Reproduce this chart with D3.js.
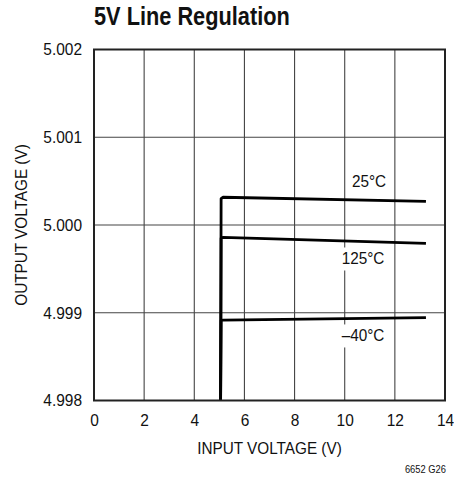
<!DOCTYPE html>
<html>
<head>
<meta charset="utf-8">
<script src="https://cdn.jsdelivr.net/npm/d3@7"></script>
<style>
  html, body { margin: 0; padding: 0; background: #fff; }
  svg { display: block; }
  text { font-family: "Liberation Sans Narrow", "Arial Narrow", "Liberation Sans", sans-serif; fill: #111; }
</style>
</head>
<body>
<svg id="chart" width="454" height="484"></svg>
<script>
const xTicks = [0, 2, 4, 6, 8, 10, 12, 14];
const yTicks = [4.998, 4.999, 5.000, 5.001, 5.002];
const yTickLabels = ["4.998", "4.999", "5.000", "5.001", "5.002"];

const seriesNames = ["25°C", "125°C", "–40°C"];
const inputV = [5.05, 5.07, 5.15, 13.24];
const out25 = [4.998, 5.000300, 5.000316, 5.000270];
const out125 = [4.998, 4.999850, 4.999860, 4.999790];
const outM40 = [4.998, 4.998910, 4.998917, 4.998944];
const labelPos = [[10.97, 5.000479], [10.73, 4.999601], [10.73, 4.998724]];

const svg = d3.select("#chart");
const M = { left: 94, right: 445, top: 49.5, bottom: 400.5 };
const x = d3.scaleLinear().domain([0, 14]).range([M.left, M.right]);
const y = d3.scaleLinear().domain([4.998, 5.002]).range([M.bottom, M.top]);

function condense(sel, f) {
  sel.each(function () {
    const w = this.getComputedTextLength();
    d3.select(this).attr("textLength", w * f).attr("lengthAdjust", "spacingAndGlyphs");
  });
}

// gridlines
const grid = svg.append("g");
grid.selectAll("line.v").data(xTicks.slice(1, -1)).enter().append("line")
  .attr("x1", d => x(d)).attr("x2", d => x(d))
  .attr("y1", M.top).attr("y2", M.bottom)
  .attr("stroke", "#444").attr("stroke-width", 1.1);
grid.selectAll("line.h").data(yTicks.slice(1, -1)).enter().append("line")
  .attr("x1", M.left).attr("x2", M.right)
  .attr("y1", d => y(d)).attr("y2", d => y(d))
  .attr("stroke", "#444").attr("stroke-width", 1.1);

// axes with labels
const xAxis = d3.axisBottom(x).tickValues(xTicks).tickSize(0).tickPadding(13).tickFormat(d3.format("d"));
const gx = svg.append("g").attr("transform", `translate(0,${M.bottom})`).call(xAxis);
gx.select(".domain").remove();
gx.selectAll("text").style("font-size", "17px").attr("fill", "#111").call(condense, 0.91);

const yAxis = d3.axisLeft(y).tickValues(yTicks).tickSize(0).tickPadding(12)
  .tickFormat((d, i) => yTickLabels[i]);
const gy = svg.append("g").attr("transform", `translate(${M.left},0)`).call(yAxis);
gy.select(".domain").remove();
gy.selectAll("text").style("font-size", "17px").attr("fill", "#111").call(condense, 0.91);

// series labels with white backgrounds
const lab = svg.append("g");
seriesNames.forEach((name, i) => {
  const t = lab.append("text")
    .attr("x", x(labelPos[i][0])).attr("y", y(labelPos[i][1]))
    .attr("text-anchor", "middle").attr("dominant-baseline", "middle")
    .style("font-size", "17px").text(name).call(condense, 0.9);
  const bb = t.node().getBBox();
  lab.insert("rect", "text")
    .attr("x", bb.x - 1).attr("y", bb.y - 2).attr("width", bb.width + 2).attr("height", bb.height + 4)
    .attr("fill", "#fff");
});

// curves
const line = d3.line().x(d => x(d[0])).y(d => y(d[1])).curve(d3.curveLinear);
[out25, out125, outM40].forEach(vals => {
  svg.append("path")
    .datum(inputV.map((v, i) => [v, vals[i]]))
    .attr("d", line)
    .attr("fill", "none").attr("stroke", "#000")
    .attr("stroke-width", 2.8).attr("stroke-linejoin", "round");
});

// border
svg.append("rect").attr("x", M.left).attr("y", M.top)
  .attr("width", M.right - M.left).attr("height", M.bottom - M.top)
  .attr("fill", "none").attr("stroke", "#222").attr("stroke-width", 2);

// titles
svg.append("text").attr("x", 94).attr("y", 25)
  .style("font-size", "25px").style("font-weight", "bold").text("5V Line Regulation").call(condense, 0.87);
svg.append("text").attr("x", (M.left + M.right) / 2).attr("y", 454)
  .attr("text-anchor", "middle").style("font-size", "17px").text("INPUT VOLTAGE (V)").call(condense, 0.9);
svg.append("text").attr("transform", `translate(27,${(M.top + M.bottom) / 2}) rotate(-90)`)
  .attr("text-anchor", "middle").style("font-size", "17px").text("OUTPUT VOLTAGE (V)").call(condense, 0.9);
svg.append("text").attr("x", 446).attr("y", 473)
  .attr("text-anchor", "end").style("font-size", "11px").text("6652 G26").call(condense, 0.85);
</script>
</body>
</html>
